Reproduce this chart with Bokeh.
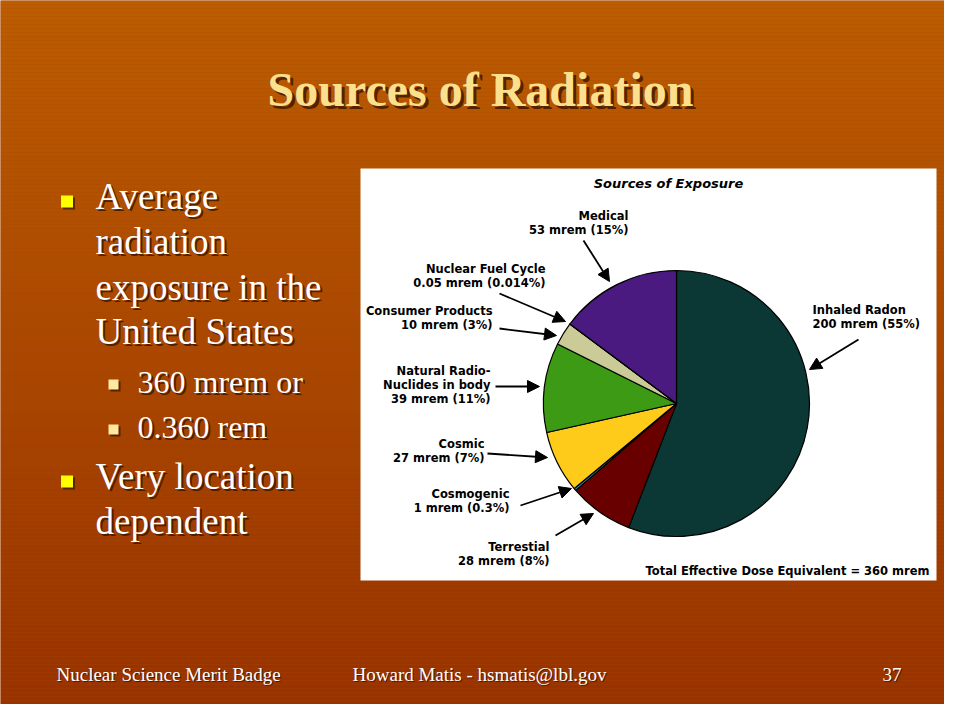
import numpy as np
from bokeh.plotting import figure
from bokeh.models import Range1d, Arrow, NormalHead
from bokeh.core.properties import value
from bokeh.embed import file_html
from bokeh.resources import INLINE

# ---------------- data ----------------
sources = ["Inhaled Radon", "Terrestial", "Cosmogenic", "Cosmic",
           "Natural Radio-\nNuclides in body", "Consumer Products",
           "Nuclear Fuel Cycle", "Medical"]
doses = [200, 28, 1, 27, 39, 10, 0.05, 53]          # mrem
percents = ["55%", "8%", "0.3%", "7%", "11%", "3%", "0.014%", "15%"]
colors = ["#0b3835", "#680000", "#2f8aa0", "#ffcb1b",
          "#3d9a14", "#cbcb98", "#999999", "#4a1a80"]

slide_title = "Sources of Radiation"
chart_title = "Sources of Exposure"
total_text = "Total Effective Dose Equivalent = 360 mrem"
bullets = [["Average", "radiation", "exposure in the", "United States"],
           ["Very location", "dependent"]]
sub_bullets = ["360 mrem or", "0.360 rem"]
footer = ["Nuclear Science Merit Badge", "Howard Matis - hsmatis@lbl.gov", "37"]

# ---------------- layout (screen pixel positions) ----------------
W, H = 944, 704
def Y(sy):
    return 720 - sy

p = figure(width=W, height=H, output_backend="svg", toolbar_location=None,
           x_range=Range1d(0, W), y_range=Range1d(720 - H, 720),
           min_border=0, outline_line_color=None)
p.axis.visible = False
p.grid.visible = False
p.background_fill_color = "#aa4800"
p.border_fill_color = "#aa4800"

# vertical gradient background
top_c = np.array([0xbc, 0x5d, 0x00])
bot_c = np.array([0x97, 0x31, 0x00])
ys = np.arange(0, 720, 4)
cols = []
for sy in ys:
    t = sy / 720.0
    c = (top_c * (1 - t) + bot_c * t).astype(int)
    cols.append("#%02x%02x%02x" % tuple(c))
p.quad(left=0, right=W, top=[Y(s) for s in ys], bottom=[Y(s + 4) for s in ys],
       fill_color=cols, line_color=None)

serif = value("Liberation Serif")
sans = value("DejaVu Sans")

def shadow_text(x, sy, txt, size_px, color, bold=False, align="left", off=2):
    style = "bold" if bold else "normal"
    size = "%gpx" % size_px
    yb = Y(sy - 0.33 * size_px)   # compensate renderer baseline offset
    p.text(x=[x + off], y=[yb - off], text=[txt], text_font=serif,
           text_font_size=size, text_font_style=style, text_color="#3a1400",
           text_alpha=0.8, text_align=align, text_baseline="alphabetic")
    p.text(x=[x], y=[yb], text=[txt], text_font=serif,
           text_font_size=size, text_font_style=style, text_color=color,
           text_align=align, text_baseline="alphabetic")

# slide title
shadow_text(480, 105, slide_title, 48, "#fbe08e", bold=True, align="center", off=3)

# bullets
line_y = [208, 253, 299, 343]
for i, t in enumerate(bullets[0]):
    shadow_text(95, line_y[i], t, 37, "#ffffff")
for i, t in enumerate(bullets[1]):
    shadow_text(95, [488, 533][i], t, 37, "#ffffff")
for i, t in enumerate(sub_bullets):
    shadow_text(137, [392, 437][i], t, 32, "#ffffff")

# bullet squares
p.scatter(x=[68.5, 68.5], y=[Y(203), Y(483)], marker="square", size=12,
          fill_color="#3a1400", line_color=None, fill_alpha=0.7)
p.scatter(x=[66.5, 66.5], y=[Y(201), Y(481)], marker="square", size=12,
          fill_color="#ffff00", line_color=None)
p.scatter(x=[115, 115], y=[Y(386), Y(431)], marker="square", size=10,
          fill_color="#3a1400", line_color=None, fill_alpha=0.7)
p.scatter(x=[113, 113], y=[Y(384), Y(429)], marker="square", size=10,
          fill_color="#ffe8a0", line_color=None)

# footer
fx = [56, 352, 882]
for x, t in zip(fx, footer):
    shadow_text(x, 680, t, 19, "#ffffff", off=1)

# white chart panel
p.quad(left=360, right=936, top=Y(168), bottom=Y(580), fill_color="white", line_color=None)

# pie
cx, cy, r = 676, Y(403), 133
vals = np.array(doses, dtype=float)
frac = vals / vals.sum()
cum_after = np.cumsum(frac)
cum_before = cum_after - frac
start = np.pi / 2 - 2 * np.pi * cum_after
end = np.pi / 2 - 2 * np.pi * cum_before
p.wedge(x=cx, y=cy, radius=r, start_angle=start, end_angle=end,
        fill_color=colors, line_color="black", line_width=1.2)

# chart titles
p.text(x=[668], y=[Y(183)], text=[chart_title], text_font=sans, text_font_size="13px",
       text_font_style="bold italic", text_color="black", text_align="center",
       text_baseline="middle")
p.text(x=[929], y=[Y(570)], text=[total_text], text_font=sans, text_font_size="11.5px",
       text_font_style="bold", text_color="black", text_align="right",
       text_baseline="middle")

# labels & arrows (layout)
lab_x = [812, 549, 509, 484, 490, 492, 545, 628]
lab_align = ["left", "right", "right", "right", "right", "right", "right", "right"]
lab_y0 = [309, 546, 493, 443, 370, 310, 268, 215]
arr = [((858, 339), (809, 369)),
       ((555, 535), (593, 513)),
       ((520, 505), (571, 488)),
       ((487, 453), (547, 457)),
       ((495, 386), (539, 386)),
       ((499, 328), (556, 335)),
       ((499, 293), (565, 321)),
       ((583, 240), (609, 281))]

for i, name in enumerate(sources):
    lines = name.split("\n") + ["%g mrem (%s)" % (doses[i], percents[i])]
    for j, ln in enumerate(lines):
        p.text(x=[lab_x[i]], y=[Y(lab_y0[i] + 14 * j)], text=[ln], text_font=sans,
               text_font_size="11.5px", text_font_style="bold", text_color="black",
               text_align=lab_align[i], text_baseline="middle")
    (x0, y0), (x1, y1) = arr[i]
    p.add_layout(Arrow(end=NormalHead(size=12, fill_color="black", line_color="black"),
                       x_start=x0, y_start=Y(y0), x_end=x1, y_end=Y(y1),
                       line_color="black", line_width=1.8))

open("out.html", "w").write(file_html(p, INLINE))
